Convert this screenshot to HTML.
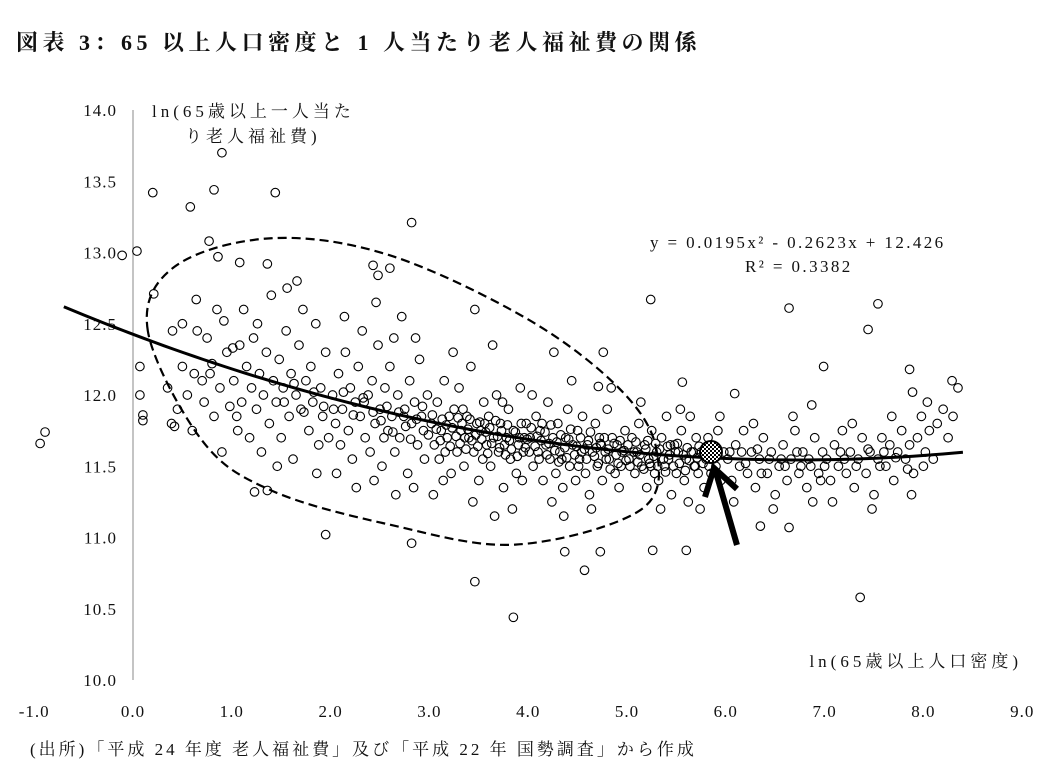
<!DOCTYPE html>
<html><head><meta charset="utf-8"><style>
body{margin:0;background:#fff;}
svg text{font-family:"Liberation Serif","Noto Serif CJK SC",serif;fill:#111;}
</style></head><body>
<svg id="chart" width="1060" height="770" viewBox="0 0 1060 770" xmlns="http://www.w3.org/2000/svg">
<rect width="1060" height="770" fill="#fff"/>
<text x="16" y="50" font-size="22" font-weight="bold" letter-spacing="4.5">図表 3：65 以上人口密度と 1 人当たり老人福祉費の関係</text>
<g id="axes"></g>
<g id="ellipse-layer"></g>
<g id="points"></g>
<g id="curve-layer"></g>
<text x="152" y="117" font-size="17" letter-spacing="4">ln(65歳以上一人当た</text>
<text x="185" y="142" font-size="17" letter-spacing="4">り老人福祉費)</text>
<text x="1022" y="667" font-size="17" text-anchor="end" letter-spacing="4">ln(65歳以上人口密度)</text>
<text x="650" y="248" font-size="17" letter-spacing="2.4">y = 0.0195x² - 0.2623x + 12.426</text>
<text x="745" y="272" font-size="17" letter-spacing="2.4">R² = 0.3382</text>
<text x="30" y="755" font-size="17" letter-spacing="3">(出所)「平成 24 年度  老人福祉費」及び「平成 22 年  国勢調査」から作成</text>
</svg>
<script>
const xTicks=[-1,0,1,2,3,4,5,6,7,8,9];
const xTickLabels=["-1.0","0.0","1.0","2.0","3.0","4.0","5.0","6.0","7.0","8.0","9.0"];
const yTicks=[10,10.5,11,11.5,12,12.5,13,13.5,14];
const yTickLabels=["10.0","10.5","11.0","11.5","12.0","12.5","13.0","13.5","14.0"];
const fitCoef=[0.0195,-0.2623,12.426];
const fitRange=[-0.7,8.4];
const highlightPoint=[5.85,11.6];
const outlierPoints=[[-0.94,11.66],[-0.89,11.74],[-0.11,12.98],[0.04,13.01],[0.2,13.42],[0.9,13.7],[0.82,13.44],[0.58,13.32],[1.44,13.42],[2.82,13.21],[0.77,13.08],[0.86,12.97],[1.08,12.93],[1.36,12.92],[2.43,12.91],[2.6,12.89],[2.48,12.84],[0.21,12.71],[0.64,12.67],[1.01,12.33],[0.07,12.2],[0.07,12.0],[0.1,11.86],[0.1,11.82],[0.39,11.8],[5.24,12.67],[6.64,12.61],[7.54,12.64],[7.44,12.46],[6.99,12.2],[7.86,12.18],[5.56,12.09],[4.71,12.06],[8.29,12.1],[8.35,12.05],[7.89,12.02],[6.09,12.01],[6.87,11.93],[4.37,10.9],[4.73,10.9],[5.26,10.91],[5.6,10.91],[4.57,10.77],[3.46,10.69],[3.85,10.44],[7.36,10.58],[6.64,11.07],[6.35,11.08],[1.95,11.02],[2.82,10.96],[1.23,11.32],[1.36,11.33]];
const bandPoints=[[0.35,12.05],[0.4,12.45],[0.45,11.9],[0.5,12.2],[0.55,12.0],[0.6,11.75],[0.62,12.15],[0.7,12.1],[0.72,11.95],[0.75,12.4],[0.8,12.22],[0.82,11.85],[0.85,12.6],[0.88,12.05],[0.9,11.6],[0.95,12.3],[0.98,11.92],[0.42,11.78],[0.5,12.5],[0.65,12.45],[0.78,12.15],[0.92,12.52],
[1.02,12.1],[1.05,11.85],[1.08,12.35],[1.1,11.95],[1.12,12.6],[1.15,12.2],[1.18,11.7],[1.2,12.05],[1.22,12.4],[1.25,11.9],[1.28,12.15],[1.3,11.6],[1.32,12.0],[1.35,12.3],[1.38,11.8],[1.4,12.7],[1.42,12.1],[1.45,11.95],[1.48,12.25],[1.5,11.7],[1.52,12.05],[1.55,12.45],[1.58,11.85],[1.6,12.15],[1.62,11.55],[1.65,12.0],[1.68,12.35],[1.7,11.9],[1.72,12.6],[1.75,12.1],[1.78,11.75],[1.8,12.2],[1.82,11.95],[1.85,12.5],[1.88,11.65],[1.9,12.05],[1.92,11.85],[1.95,12.3],[1.98,11.7],[1.06,11.75],[1.26,12.5],[1.46,11.5],[1.66,12.8],[1.86,11.45],[1.56,12.75],
[2.02,12.0],[2.05,11.8],[2.08,12.15],[2.1,11.65],[2.12,11.9],[2.15,12.3],[2.18,11.75],[2.2,12.05],[2.22,11.55],[2.25,11.95],[2.28,12.2],[2.3,11.85],[2.32,12.45],[2.35,11.7],[2.38,12.0],[2.4,11.6],[2.42,12.1],[2.45,11.8],[2.48,12.35],[2.5,11.9],[2.52,11.5],[2.55,12.05],[2.58,11.75],[2.6,12.2],[2.62,11.85],[2.65,11.6],[2.68,12.0],[2.7,11.7],[2.72,12.55],[2.75,11.9],[2.78,11.45],[2.8,12.1],[2.82,11.8],[2.85,11.95],[2.88,11.65],[2.9,12.25],[2.92,11.85],[2.95,11.55],[2.98,12.0],[2.06,11.45],[2.26,11.35],[2.46,12.65],[2.66,11.3],[2.86,12.4],[2.14,12.55],[2.34,11.95],[2.54,11.7],[2.74,11.85],[2.94,11.75],[2.44,11.4],[2.64,12.4],[2.84,11.35],
[3.02,11.8],[3.05,11.65],[3.08,11.95],[3.1,11.55],[3.12,11.75],[3.15,12.1],[3.18,11.7],[3.2,11.85],[3.22,11.45],[3.25,11.9],[3.28,11.6],[3.3,12.05],[3.32,11.75],[3.35,11.5],[3.38,11.85],[3.4,11.7],[3.42,12.2],[3.45,11.6],[3.48,11.8],[3.5,11.4],[3.52,11.75],[3.55,11.95],[3.58,11.65],[3.6,11.85],[3.62,11.5],[3.65,11.7],[3.68,12.0],[3.7,11.6],[3.72,11.8],[3.75,11.35],[3.78,11.7],[3.8,11.9],[3.82,11.55],[3.85,11.75],[3.88,11.45],[3.9,11.65],[3.92,12.05],[3.95,11.6],[3.98,11.8],[3.04,11.3],[3.24,12.3],[3.44,11.25],[3.64,12.35],[3.84,11.2],[3.14,11.4],[3.34,11.9],[3.54,11.55],[3.74,11.95],[3.94,11.4],[3.16,11.6],[3.36,11.7],[3.56,11.8],[3.76,11.65],[3.96,11.7],[3.46,12.6],[3.66,11.15],
[4.02,11.7],[4.05,11.5],[4.08,11.85],[4.1,11.6],[4.12,11.75],[4.15,11.4],[4.18,11.65],[4.2,11.95],[4.22,11.55],[4.25,11.7],[4.28,11.45],[4.3,11.8],[4.32,11.6],[4.35,11.35],[4.38,11.7],[4.4,11.9],[4.42,11.5],[4.45,11.65],[4.48,11.4],[4.5,11.75],[4.52,11.55],[4.55,11.85],[4.58,11.45],[4.6,11.65],[4.62,11.3],[4.65,11.6],[4.68,11.8],[4.7,11.5],[4.72,11.7],[4.75,11.4],[4.78,11.6],[4.8,11.9],[4.82,11.55],[4.85,11.7],[4.88,11.45],[4.9,11.65],[4.92,11.35],[4.95,11.6],[4.98,11.75],[4.04,12.0],[4.24,11.25],[4.44,12.1],[4.64,11.2],[4.84,12.05],[4.14,11.8],[4.34,11.55],[4.54,11.6],[4.74,11.65],[4.94,11.5],[4.26,12.3],[4.76,12.3],[4.36,11.15],
[5.02,11.55],[5.05,11.7],[5.08,11.45],[5.1,11.6],[5.12,11.8],[5.15,11.5],[5.18,11.65],[5.2,11.35],[5.22,11.55],[5.25,11.75],[5.28,11.45],[5.3,11.6],[5.32,11.4],[5.35,11.7],[5.38,11.5],[5.4,11.85],[5.42,11.55],[5.45,11.3],[5.48,11.65],[5.5,11.45],[5.52,11.6],[5.55,11.75],[5.58,11.4],[5.6,11.55],[5.62,11.25],[5.65,11.6],[5.68,11.5],[5.7,11.7],[5.72,11.45],[5.75,11.6],[5.78,11.35],[5.8,11.55],[5.82,11.7],[5.85,11.45],[5.88,11.6],[5.9,11.5],[5.92,11.75],[5.95,11.4],[5.98,11.6],[5.14,11.95],[5.34,11.2],[5.54,11.9],[5.74,11.2],[5.94,11.85],[5.64,11.85],[5.44,11.65],[5.24,11.5],
[6.02,11.55],[6.06,11.4],[6.1,11.65],[6.14,11.5],[6.18,11.75],[6.22,11.45],[6.26,11.6],[6.3,11.35],[6.34,11.55],[6.38,11.7],[6.42,11.45],[6.46,11.6],[6.5,11.3],[6.54,11.5],[6.58,11.65],[6.62,11.4],[6.66,11.55],[6.7,11.75],[6.74,11.45],[6.78,11.6],[6.82,11.35],[6.86,11.5],[6.9,11.7],[6.94,11.45],[6.98,11.6],[6.08,11.25],[6.28,11.8],[6.48,11.2],[6.68,11.85],[6.88,11.25],[6.16,11.6],[6.36,11.45],[6.56,11.55],[6.76,11.5],[6.96,11.4],
[7.02,11.55],[7.06,11.4],[7.1,11.65],[7.14,11.5],[7.18,11.75],[7.22,11.45],[7.26,11.6],[7.3,11.35],[7.34,11.55],[7.38,11.7],[7.42,11.45],[7.46,11.6],[7.5,11.3],[7.54,11.55],[7.58,11.7],[7.62,11.5],[7.66,11.65],[7.7,11.4],[7.74,11.6],[7.78,11.75],[7.82,11.55],[7.86,11.65],[7.9,11.45],[7.94,11.7],[7.98,11.85],[8.02,11.6],[8.06,11.75],[8.1,11.55],[8.14,11.8],[8.2,11.9],[8.25,11.7],[8.3,11.85],[7.08,11.25],[7.28,11.8],[7.48,11.2],[7.68,11.85],[7.88,11.3],[8.04,11.95],[7.2,11.55],[7.6,11.6],[8.0,11.5]];
const coreBandPoints=[[2.51,11.82],[2.57,11.92],[2.63,11.74],[2.69,11.88],[2.76,11.78],[2.81,11.69],[2.87,11.83],[2.93,11.92],[2.99,11.72],[3.03,11.86],[3.07,11.76],[3.11,11.68],[3.13,11.83],[3.17,11.79],[3.21,11.64],[3.23,11.77],[3.27,11.71],[3.29,11.84],[3.31,11.66],[3.33,11.8],[3.37,11.62],[3.39,11.76],[3.41,11.83],[3.43,11.68],[3.47,11.72],[3.49,11.64],[3.51,11.81],[3.53,11.69],[3.57,11.74],[3.59,11.59],[3.61,11.77],[3.63,11.66],[3.67,11.82],[3.69,11.71],[3.71,11.63],[3.73,11.75],[3.77,11.58],[3.79,11.79],[3.81,11.68],[3.83,11.62],[3.87,11.74],[3.89,11.57],[3.91,11.7],[3.93,11.8],[3.97,11.63],[3.99,11.69],[4.01,11.6],[4.03,11.77],[4.07,11.64],[4.09,11.71],[4.11,11.55],[4.13,11.68],[4.17,11.74],[4.19,11.58],[4.21,11.66],[4.23,11.79],[4.27,11.61],[4.29,11.67],[4.31,11.53],[4.33,11.72],[4.37,11.63],[4.39,11.56],[4.41,11.69],[4.43,11.76],[4.47,11.58],[4.49,11.64],[4.51,11.5],[4.53,11.7],[4.57,11.62],[4.59,11.55],[4.61,11.68],[4.63,11.74],[4.67,11.57],[4.69,11.63],[4.71,11.52],[4.73,11.66],[4.77,11.7],[4.79,11.55],[4.81,11.62],[4.83,11.48],[4.87,11.66],[4.89,11.58],[4.91,11.52],[4.93,11.68],[4.97,11.61],[4.99,11.54],[5.01,11.65],[5.03,11.5],[5.07,11.6],[5.09,11.67],[5.11,11.53],[5.13,11.58],[5.17,11.48],[5.19,11.62],[5.21,11.68],[5.23,11.52],[5.27,11.57],[5.29,11.66],[5.31,11.5],[5.33,11.62],[5.37,11.55],[5.39,11.46],[5.41,11.64],[5.43,11.58],[5.47,11.5],[5.49,11.6],[5.51,11.66],[5.53,11.52],[5.57,11.58],[5.59,11.47],[5.61,11.63],[5.63,11.54],[5.67,11.6],[5.69,11.5],[5.71,11.56],[5.73,11.64],[5.77,11.52],[5.79,11.6],[5.83,11.5],[5.87,11.55],[1.53,11.95],[1.63,12.08],[1.73,11.88],[1.83,12.02],[1.93,11.92],[2.03,11.9],[2.13,12.02],[2.23,11.86],[2.33,11.98],[2.43,11.88],[6.04,11.6],[6.2,11.52],[6.32,11.62],[6.44,11.55],[6.6,11.5],[6.72,11.6],[6.84,11.55],[7.0,11.5],[7.16,11.6],[7.32,11.5],[7.44,11.62],[7.56,11.5],[7.72,11.56],[7.84,11.48]];
const ellipseOutline=[[0.15,12.45],[0.42,12.9],[1.4,13.1],[2.6,12.98],[4.0,12.53],[4.93,12.04],[5.3,11.61],[5.13,11.19],[3.87,10.95],[2.6,11.09],[1.4,11.33],[0.7,11.68]];

const NS="http://www.w3.org/2000/svg";
const X0=133,XS=98.8,Y0=680,YS=142.5;
const sx=v=>X0+v*XS;
const sy=v=>Y0-(v-10)*YS;
function mk(tag,attrs,parent){const e=document.createElementNS(NS,tag);for(const k in attrs)e.setAttribute(k,attrs[k]);parent.appendChild(e);return e;}

const axes=document.getElementById('axes');
const ya=mk('line',{x1:sx(0),y1:sy(14),x2:sx(0),y2:sy(10),stroke:'#888','stroke-width':1},axes);


yTicks.forEach((t,i)=>{
  const tx=mk('text',{x:117,y:sy(t)+6,'font-size':17,'text-anchor':'end','letter-spacing':1},axes);
  tx.textContent=yTickLabels[i];
  
  
});
xTicks.forEach((t,i)=>{
  const tx=mk('text',{x:sx(t),y:717,'font-size':17,'text-anchor':'middle','letter-spacing':1},axes);
  tx.textContent=xTickLabels[i];
  
  
});

const el=document.getElementById('ellipse-layer');
const P=ellipseOutline.map(p=>[sx(p[0]),sy(p[1])]);
let d=`M${P[0][0]},${P[0][1]}`;
for(let i=0;i<P.length;i++){
  const p0=P[(i-1+P.length)%P.length],p1=P[i],p2=P[(i+1)%P.length],p3=P[(i+2)%P.length];
  const c1=[p1[0]+(p2[0]-p0[0])/6,p1[1]+(p2[1]-p0[1])/6];
  const c2=[p2[0]-(p3[0]-p1[0])/6,p2[1]-(p3[1]-p1[1])/6];
  d+=` C${c1[0]},${c1[1]} ${c2[0]},${c2[1]} ${p2[0]},${p2[1]}`;
}
const ep=mk('path',{d:d+'Z',fill:'none',stroke:'#000','stroke-width':2.2,'stroke-dasharray':'9,5'},el);



const pg=document.getElementById('points');
bandPoints.concat(coreBandPoints,outlierPoints).forEach(p=>{
  const c=mk('circle',{cx:sx(p[0]),cy:sy(p[1]),r:4.3,fill:'none',stroke:'#000','stroke-width':1.1},pg);
  
  
});

const cl=document.getElementById('curve-layer');
let cd='';
for(let i=0;i<=90;i++){
  const x=fitRange[0]+(fitRange[1]-fitRange[0])*i/90;
  const y=fitCoef[0]*x*x+fitCoef[1]*x+fitCoef[2];
  cd+=(i?'L':'M')+sx(x)+','+sy(y);
}
const cp=mk('path',{d:cd,fill:'none',stroke:'#000','stroke-width':3},cl);



const defs=mk('defs',{},cl);
const pat=mk('pattern',{id:'chk',width:4,height:4,patternUnits:'userSpaceOnUse'},defs);
mk('rect',{width:4,height:4,fill:'#fff'},pat);
mk('rect',{width:2,height:2,fill:'#000'},pat);
mk('rect',{x:2,y:2,width:2,height:2,fill:'#000'},pat);
const hx=sx(highlightPoint[0]),hy=sy(highlightPoint[1]);
const hc=mk('circle',{cx:hx,cy:hy,r:11,fill:'url(#chk)',stroke:'#000','stroke-width':2},cl);


const ar=mk('path',{d:`M${hx+26},${hy+93} L${hx+4},${hy+17} M${hx-6},${hy+45} L${hx+3},${hy+16} L${hx+26},${hy+37}`,fill:'none',stroke:'#000','stroke-width':6,'stroke-linecap':'butt'},cl);


</script>
</body></html>
